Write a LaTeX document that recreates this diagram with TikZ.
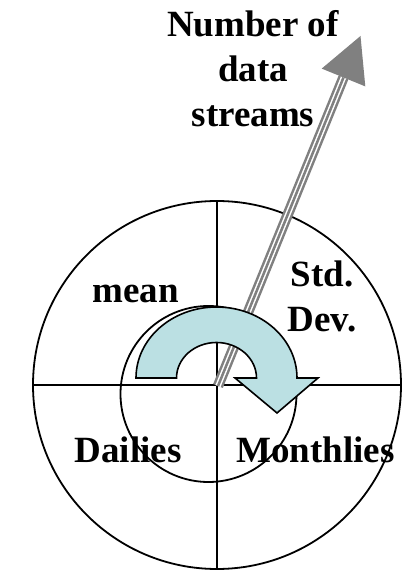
\documentclass[tikz,border=0pt]{standalone}
\usepackage{fontspec}
\setmainfont{Liberation Serif}
\usetikzlibrary{calc}
\definecolor{arrowblue}{RGB}{187,224,227}
\definecolor{streamgray}{RGB}{128,128,128}
\tikzset{
  ring/.style={draw=black, line width=1.8pt},
  axis/.style={draw=black, line width=1.8pt},
  lbl/.style={font=\fontsize{37}{45}\selectfont\bfseries, inner sep=0pt, anchor=base, align=center},
  cyclearrow/.style={fill=arrowblue, draw=black, line width=1.6pt, line join=miter},
}
\begin{document}
\begin{tikzpicture}[x=1pt,y=1pt]
\useasboundingbox (0,0) rectangle (403,576);
% circles and axes
\coordinate (O) at (217,191);
\node[ring, circle, minimum size=368pt, inner sep=0pt] (big) at (O) {};
\node[ring, circle, minimum size=176pt, inner sep=0pt] (small) at (208.5,182) {};
\draw[axis] (big.west) -- (big.east);
\draw[axis] (big.north) -- (big.south);
% number of data streams arrow
\coordinate (S) at (218,190);
\coordinate (B) at (343.5,498.5);
\draw[streamgray, line width=10.5pt] (S) -- (B);
\draw[white, line width=5.5pt, shorten >=-1pt] (S) -- (B);
\draw[streamgray, line width=2.5pt] (S) -- (B);
\coordinate (T) at (360.5,540);
\coordinate (W1) at (321.7,507.4);
\coordinate (W2) at (365.3,489.6);
\fill[streamgray] (W1) -- (T) -- (W2) -- cycle;
% curved cycle arrow
\draw[cyclearrow] (136,198) arc[start angle=180, end angle=0, x radius=80.5pt, y radius=71pt]
  -- (318,198) -- (277,163) -- (235,198) -- (256.5,198)
  arc[start angle=0, end angle=180, x radius=40pt, y radius=35.5pt] -- cycle;
% labels (base anchor = baseline of last line)
\node[lbl] (streams) at (253,449) {Number of\\data\\streams};
\node[lbl] (mean) at (135.5,273) {mean};
\node[lbl] (std) at (322,244) {Std.\\Dev.};
\node[lbl] (dailies) at (128,113) {Dailies};
\node[lbl] (monthlies) at (315.5,113) {Monthlies};
\end{tikzpicture}
\end{document}
